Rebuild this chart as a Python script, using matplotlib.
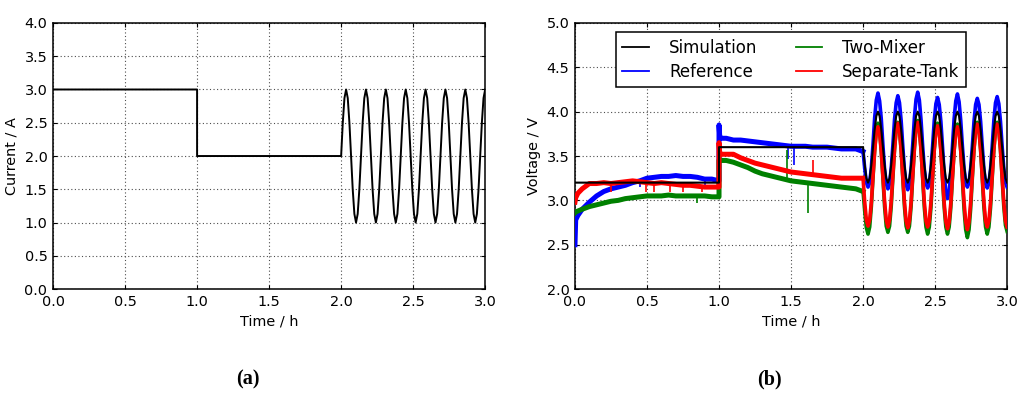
import numpy as np
import matplotlib.pyplot as plt
from matplotlib.lines import Line2D

# ---- data ----
# current profile (a)
cur_t_step = [0.0, 1.0, 1.0, 2.0]
cur_step = [3.0, 3.0, 2.0, 2.0]

# sampling of the sinusoidal part (2 h .. 3 h), 12 samples per period
t_osc = np.linspace(2.0, 3.0, 88)

cur_osc = [
    2.0, 2.5, 2.87, 3.0, 2.87, 2.5, 2.0, 1.5, 1.13, 1.0, 1.13, 1.5,
    2.0, 2.5, 2.87, 3.0, 2.87, 2.5, 2.0, 1.5, 1.13, 1.0, 1.13, 1.5,
    2.0, 2.5, 2.87, 3.0, 2.87, 2.5, 2.0, 1.5, 1.13, 1.0, 1.13, 1.5,
    2.0, 2.5, 2.87, 3.0, 2.87, 2.5, 2.0, 1.5, 1.13, 1.0, 1.13, 1.5,
    2.0, 2.5, 2.87, 3.0, 2.87, 2.5, 2.0, 1.5, 1.13, 1.0, 1.13, 1.5,
    2.0, 2.5, 2.87, 3.0, 2.87, 2.5, 2.0, 1.5, 1.13, 1.0, 1.13, 1.5,
    2.0, 2.5, 2.87, 3.0, 2.87, 2.5, 2.0, 1.5, 1.13, 1.0, 1.13, 1.5,
    2.0, 2.5, 2.87, 3.0,
]

# voltage (b)
sim_t_step = [0.0, 1.0, 1.0, 2.0]
sim_step = [3.2, 3.2, 3.6, 3.6]
sim_osc = [
    3.6, 3.4, 3.25, 3.2, 3.25, 3.4, 3.6, 3.8, 3.95, 4.0, 3.95, 3.8,
    3.6, 3.4, 3.25, 3.2, 3.25, 3.4, 3.6, 3.8, 3.95, 4.0, 3.95, 3.8,
    3.6, 3.4, 3.25, 3.2, 3.25, 3.4, 3.6, 3.8, 3.95, 4.0, 3.95, 3.8,
    3.6, 3.4, 3.25, 3.2, 3.25, 3.4, 3.6, 3.8, 3.95, 4.0, 3.95, 3.8,
    3.6, 3.4, 3.25, 3.2, 3.25, 3.4, 3.6, 3.8, 3.95, 4.0, 3.95, 3.8,
    3.6, 3.4, 3.25, 3.2, 3.25, 3.4, 3.6, 3.8, 3.95, 4.0, 3.95, 3.8,
    3.6, 3.4, 3.25, 3.2, 3.25, 3.4, 3.6, 3.8, 3.95, 4.0, 3.95, 3.8,
    3.6, 3.4, 3.25, 3.2,
]

t_a = [0.0, 0.005, 0.02, 0.05, 0.1, 0.15, 0.2, 0.25, 0.3, 0.35, 0.4, 0.45,
       0.5, 0.55, 0.6, 0.65, 0.7, 0.75, 0.8, 0.85, 0.9, 0.95, 1.0]
t_b = [1.0, 1.005, 1.02, 1.05, 1.1, 1.15, 1.2, 1.25, 1.3, 1.35, 1.4, 1.45,
       1.5, 1.55, 1.6, 1.65, 1.7, 1.75, 1.8, 1.85, 1.9, 1.95, 2.0]

ref_a = [2.5, 2.78, 2.83, 2.9, 2.98, 3.05, 3.1, 3.13, 3.15, 3.17, 3.2, 3.22,
         3.25, 3.26, 3.27, 3.27, 3.28, 3.27, 3.27, 3.26, 3.24, 3.24, 3.22]
ref_b = [3.85, 3.72, 3.7, 3.7, 3.68, 3.68, 3.67, 3.66, 3.65, 3.64, 3.63, 3.62,
         3.61, 3.61, 3.61, 3.6, 3.6, 3.6, 3.59, 3.58, 3.58, 3.58, 3.55]
ref_osc = [
    3.55, 3.36, 3.20, 3.15, 3.20, 3.37, 3.63, 3.93, 4.13, 4.21, 4.12, 3.92,
    3.62, 3.35, 3.19, 3.13, 3.19, 3.36, 3.62, 3.91, 4.10, 4.18, 4.10, 3.90,
    3.61, 3.34, 3.18, 3.12, 3.18, 3.36, 3.63, 3.93, 4.14, 4.22, 4.13, 3.91,
    3.61, 3.35, 3.19, 3.14, 3.19, 3.35, 3.61, 3.90, 4.09, 4.16, 4.08, 3.89,
    3.60, 3.30, 3.10, 3.02, 3.10, 3.31, 3.61, 3.92, 4.12, 4.20, 4.11, 3.90,
    3.61, 3.36, 3.20, 3.15, 3.20, 3.36, 3.61, 3.89, 4.08, 4.15, 4.08, 3.89,
    3.61, 3.35, 3.19, 3.14, 3.19, 3.35, 3.61, 3.90, 4.10, 4.17, 4.09, 3.89,
    3.61, 3.36, 3.20, 3.15,
]

sep_a = [2.98, 3.03, 3.08, 3.13, 3.19, 3.19, 3.2, 3.19, 3.2, 3.21, 3.22, 3.21,
         3.2, 3.19, 3.2, 3.19, 3.18, 3.17, 3.17, 3.16, 3.15, 3.15, 3.15]
sep_b = [3.65, 3.53, 3.52, 3.52, 3.52, 3.48, 3.45, 3.42, 3.4, 3.38, 3.36, 3.34,
         3.32, 3.31, 3.3, 3.29, 3.28, 3.27, 3.26, 3.25, 3.25, 3.25, 3.25]
sep_osc = [
    3.25, 2.98, 2.78, 2.71, 2.78, 2.98, 3.27, 3.56, 3.77, 3.83, 3.76, 3.55,
    3.27, 2.99, 2.78, 2.70, 2.78, 2.99, 3.28, 3.58, 3.80, 3.87, 3.79, 3.57,
    3.27, 2.98, 2.77, 2.69, 2.77, 2.98, 3.28, 3.59, 3.81, 3.88, 3.80, 3.57,
    3.27, 2.98, 2.77, 2.70, 2.77, 2.98, 3.27, 3.57, 3.78, 3.84, 3.77, 3.56,
    3.26, 2.97, 2.76, 2.68, 2.76, 2.97, 3.27, 3.56, 3.77, 3.83, 3.77, 3.56,
    3.27, 2.98, 2.76, 2.67, 2.76, 2.98, 3.28, 3.58, 3.79, 3.86, 3.79, 3.57,
    3.27, 2.98, 2.77, 2.70, 2.77, 2.98, 3.28, 3.58, 3.79, 3.86, 3.79, 3.57,
    3.27, 2.98, 2.77, 2.70,
]

two_a = [2.86, 2.87, 2.88, 2.9, 2.93, 2.95, 2.97, 2.99, 3.0, 3.02, 3.03, 3.04,
         3.05, 3.05, 3.05, 3.06, 3.05, 3.05, 3.05, 3.05, 3.05, 3.04, 3.04]
two_b = [3.45, 3.46, 3.45, 3.45, 3.43, 3.4, 3.37, 3.33, 3.3, 3.28, 3.26, 3.24,
         3.22, 3.21, 3.2, 3.19, 3.18, 3.17, 3.16, 3.15, 3.14, 3.13, 3.1]
two_osc = [
    3.10, 2.88, 2.69, 2.62, 2.70, 2.93, 3.25, 3.56, 3.79, 3.87, 3.79, 3.56,
    3.25, 2.93, 2.71, 2.64, 2.71, 2.93, 3.25, 3.57, 3.80, 3.88, 3.80, 3.57,
    3.25, 2.93, 2.71, 2.64, 2.71, 2.93, 3.26, 3.58, 3.82, 3.90, 3.81, 3.58,
    3.25, 2.92, 2.70, 2.62, 2.70, 2.92, 3.25, 3.57, 3.79, 3.87, 3.79, 3.56,
    3.24, 2.92, 2.70, 2.62, 2.70, 2.92, 3.25, 3.56, 3.79, 3.86, 3.78, 3.56,
    3.24, 2.90, 2.67, 2.58, 2.67, 2.91, 3.25, 3.57, 3.80, 3.88, 3.80, 3.57,
    3.25, 2.92, 2.70, 2.62, 2.70, 2.92, 3.25, 3.57, 3.80, 3.88, 3.80, 3.57,
    3.25, 2.93, 2.72, 2.65,
]

# single-sample spikes: time, low, high
ref_spikes = [(0.45, 3.15, 3.22), (0.9, 3.14, 3.24), (1.48, 3.47, 3.61), (1.52, 3.40, 3.61)]
sep_spikes = [(0.25, 3.10, 3.19), (0.49, 3.10, 3.20), (0.55, 3.10, 3.19), (0.66, 3.10, 3.19),
              (0.75, 3.10, 3.17), (0.88, 3.10, 3.16), (1.65, 3.29, 3.46)]
two_spikes = [(0.85, 2.97, 3.05), (1.47, 3.21, 3.57), (1.62, 2.86, 3.18)]

labels = ['Simulation', 'Reference', 'Two-Mixer', 'Separate-Tank']
colors = ['black', 'blue', 'green', 'red']

# ---- plotting ----
plt.rcParams['font.family'] = 'DejaVu Sans'
fs = 10.4

fig = plt.figure(figsize=(10.24, 3.96), dpi=100)
ax1 = fig.add_axes([0.0518, 0.270, 0.422, 0.672])
ax2 = fig.add_axes([0.5615, 0.270, 0.422, 0.672])

# (a) current
ax1.plot(cur_t_step + list(t_osc), cur_step + cur_osc, color='black', lw=1.4)
ax1.set_xlim(0, 3)
ax1.set_ylim(0, 4)
ax1.set_yticks(np.arange(0, 4.01, 0.5))
ax1.set_xlabel('Time / h', fontsize=fs)
ax1.set_ylabel('Current / A', fontsize=fs)

# (b) voltage
series = [
    (ref_a, ref_b, ref_osc, ref_spikes, 'blue', 3),
    (two_a, two_b, two_osc, two_spikes, 'green', 4),
    (sep_a, sep_b, sep_osc, sep_spikes, 'red', 5),
]
for a, b, osc, spikes, col, z in series:
    ax2.plot(t_a + t_b, a + b, color=col, lw=3.6, zorder=z)
    ax2.plot([t_b[-1]] + list(t_osc), [b[-1]] + osc, color=col, lw=2.6, zorder=z)
    for ts, lo, hi in spikes:
        ax2.vlines(ts, lo, hi, color=col, lw=1.2, zorder=z)

ax2.plot(sim_t_step + list(t_osc), sim_step + sim_osc, color='black', lw=1.5, zorder=6)
ax2.set_xlim(0, 3)
ax2.set_ylim(2, 5)
ax2.set_yticks(np.arange(2, 5.01, 0.5))
ax2.set_xlabel('Time / h', fontsize=fs)
ax2.set_ylabel('Voltage / V', fontsize=fs)

handles = [Line2D([], [], color=c, lw=1.3) for c in colors]
leg = ax2.legend(handles, labels, ncol=2, loc='upper center', bbox_to_anchor=(0.5, 0.966),
                 borderaxespad=0, fontsize=12, handlelength=1.6, handletextpad=1.2,
                 columnspacing=2.3, fancybox=False, framealpha=1, borderpad=0.4,
                 labelspacing=0.35)
leg.get_frame().set_edgecolor('black')
leg.get_frame().set_linewidth(1.1)
leg.set_zorder(10)

for ax in (ax1, ax2):
    ax.set_xticks(np.arange(0, 3.01, 0.5))
    ax.grid(True, color='0.3', linestyle=(0, (1, 2.2)), lw=0.8)
    ax.tick_params(direction='in', top=True, right=True, length=3, labelsize=fs, pad=4)
    for sp in ax.spines.values():
        sp.set_linewidth(1.1)

fig.text(248 / 1024, 1 - 379 / 396, '(a)', ha='center', va='center',
         fontfamily='Liberation Serif', fontweight='bold', fontsize=14.5)
fig.text(769 / 1024, 1 - 379 / 396, '(b)', ha='center', va='center',
         fontfamily='Liberation Serif', fontweight='bold', fontsize=14.5)

fig.savefig('out.png', dpi=100)
